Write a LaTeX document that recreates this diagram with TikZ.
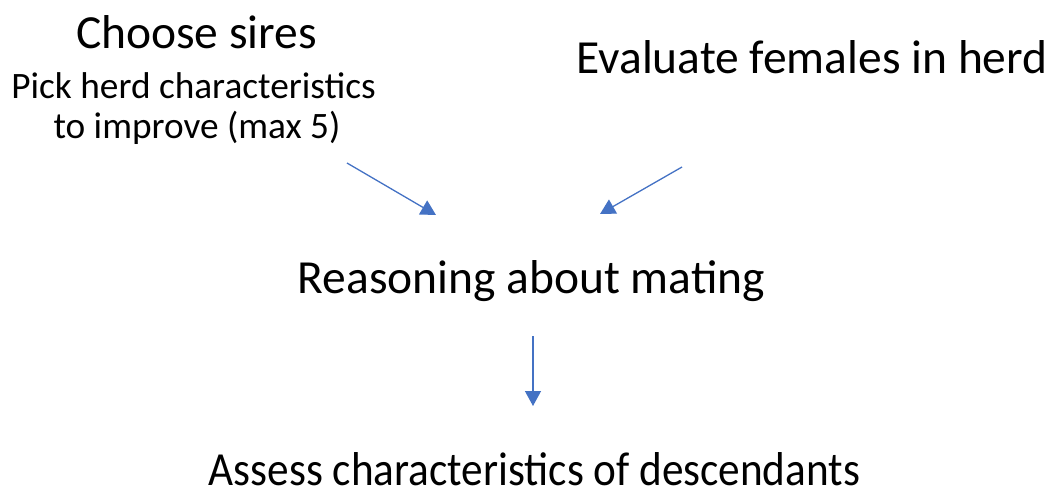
\documentclass[tikz,border=0pt]{standalone}
\usepackage{fontspec}
\setmainfont{Carlito}
\usetikzlibrary{arrows.meta}
\definecolor{arrowblue}{HTML}{4472C4}
\tikzset{
  big/.style={anchor=base, inner sep=0pt, font=\fontsize{47.5}{57}\selectfont},
  small/.style={anchor=base, inner sep=0pt, font=\fontsize{37.3}{45}\selectfont},
  link/.style={draw=arrowblue, line width=1.3pt, -{Triangle[length=15pt,width=16pt]}, arrowblue}
}
\begin{document}
\begin{tikzpicture}[x=1pt,y=-1pt]
\useasboundingbox (0,0) rectangle (1054,498);
\node[big] (sires) at (196.5,48) {Choose sires};
\node[small] (pick) at (193.5,98) {Pick herd characteristics};
\node[small] (improve) at (197,138) {to improve (max 5)};
\node[big] (females) at (812,73) {Evaluate females in herd};
\node[big] (mating) at (531.5,293) {Reasoning about mating};
\node[big] (assess) at (534.5,485) {\scalebox{0.91}[1]{Assess characteristics of descendants}};
\coordinate (a1) at (347,163);
\coordinate (a2) at (436,215);
\coordinate (b1) at (682,167);
\coordinate (b2) at (600,214);
\coordinate (c1) at (533,336);
\coordinate (c2) at (533,406);
\draw[link] (a1) -- (a2);
\draw[link] (b1) -- (b2);
\draw[link] (c1) -- (c2);
\end{tikzpicture}
\end{document}
